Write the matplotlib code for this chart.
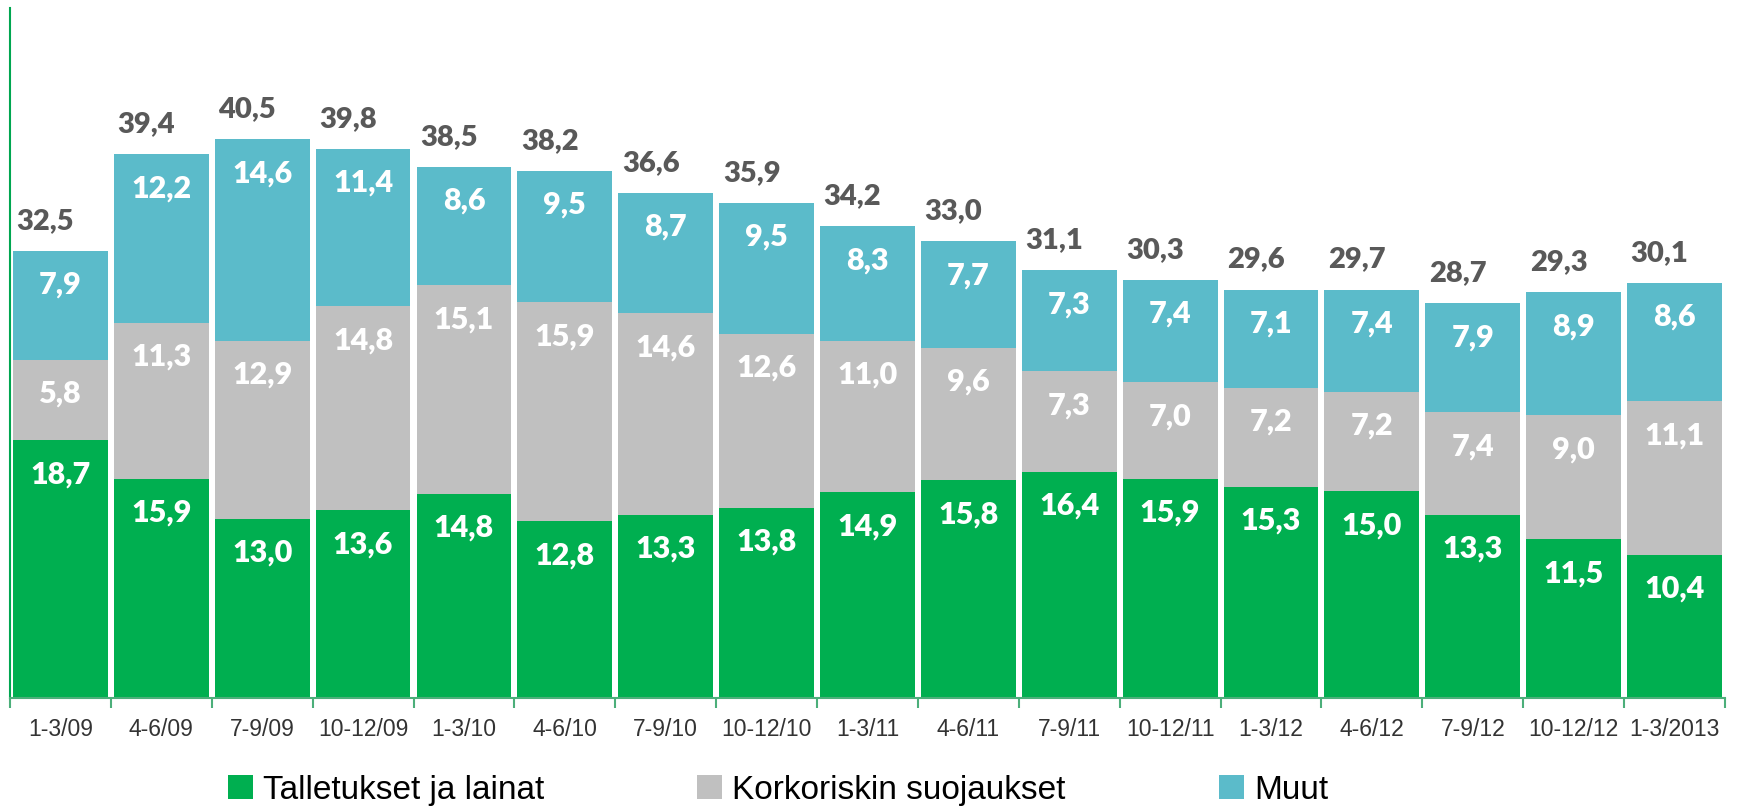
import numpy as np
import matplotlib
matplotlib.use("Agg")
import matplotlib.pyplot as plt
from matplotlib.patches import Patch

cats = ['1-3/09', '4-6/09', '7-9/09', '10-12/09', '1-3/10', '4-6/10', '7-9/10',
        '10-12/10', '1-3/11', '4-6/11', '7-9/11', '10-12/11', '1-3/12', '4-6/12',
        '7-9/12', '10-12/12', '1-3/2013']
talletukset = [18.7, 15.9, 13.0, 13.6, 14.8, 12.8, 13.3, 13.8, 14.9, 15.8, 16.4,
               15.9, 15.3, 15.0, 13.3, 11.5, 10.4]
korkoriski = [5.8, 11.3, 12.9, 14.8, 15.1, 15.9, 14.6, 12.6, 11.0, 9.6, 7.3,
              7.0, 7.2, 7.2, 7.4, 9.0, 11.1]
muut = [7.9, 12.2, 14.6, 11.4, 8.6, 9.5, 8.7, 9.5, 8.3, 7.7, 7.3, 7.4, 7.1,
        7.4, 7.9, 8.9, 8.6]
totals = [32.5, 39.4, 40.5, 39.8, 38.5, 38.2, 36.6, 35.9, 34.2, 33.0, 31.1,
          30.3, 29.6, 29.7, 28.7, 29.3, 30.1]
names = ['Talletukset ja lainat', 'Korkoriskin suojaukset', 'Muut']
colors = ['#00AF50', '#C0C0C0', '#5BBBCA']

fig = plt.figure(figsize=(17.4, 8.08), dpi=100)
ax = fig.add_axes([0.00575, 0.136, 0.9856, 0.854])

x = np.arange(len(cats))
bottom = np.zeros(len(cats))
for vals, col in zip([talletukset, korkoriski, muut], colors):
    v = np.array(vals)
    ax.bar(x, v, width=0.94, bottom=bottom, color=col, edgecolor='none')
    for xi, b, h in zip(x, bottom, v):
        ax.annotate(f'{h:.1f}'.replace('.', ','), (xi, b + h), xytext=(0, -34),
                    textcoords='offset pixels', ha='center', va='center',
                    color='white', fontsize=22, fontweight='heavy', family='Lato')
    bottom += v

for xi, t, top in zip(x, totals, bottom):
    ax.annotate(f'{t:.1f}'.replace('.', ','), (xi, top), xytext=(-15, 30),
                textcoords='offset pixels', ha='center', va='center',
                color='#595959', fontsize=21, fontweight='heavy', family='Lato')

ax.set_xlim(-0.5, len(cats) - 0.5)
ax.set_ylim(0, 50)
ax.set_yticks([])
ax.set_xticks(x)
ax.set_xticklabels(cats, fontsize=16.5, color='#333333', family='Liberation Sans')
ax.tick_params(axis='x', which='major', length=0, pad=14)
ax.set_xticks(np.arange(-0.5, len(cats), 1), minor=True)
ax.tick_params(axis='x', which='minor', length=7, color='#4CAF7A', width=1.5)
for s in ['top', 'right']:
    ax.spines[s].set_visible(False)
ax.spines['left'].set_color('#00A650')
ax.spines['left'].set_linewidth(1.5)
ax.spines['bottom'].set_color('#4CAF7A')
ax.spines['bottom'].set_linewidth(1.5)

handles = [Patch(facecolor=c, edgecolor='none') for c in colors]
fig.legend(handles, names, loc='center', bbox_to_anchor=(0.447, 0.022), ncol=3,
           frameon=False, prop={'family': 'Liberation Sans', 'size': 24},
           handlelength=0.75, handleheight=0.75, handletextpad=0.3,
           columnspacing=4.6)

fig.savefig('out.png', dpi=100)
